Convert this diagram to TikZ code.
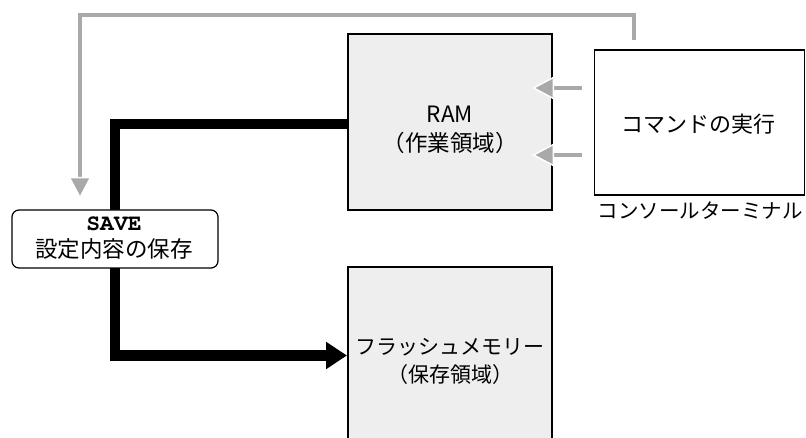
\documentclass[tikz,border=0pt]{standalone}
\usepackage{fontspec}
\setmainfont{Noto Sans CJK JP}
\newfontfamily\savefont{texgyrecursor-bold.otf}
\usetikzlibrary{arrows.meta}
\definecolor{boxfill}{HTML}{EEEEEE}
\definecolor{arrgray}{HTML}{A9A9A9}
\begin{document}
\begin{tikzpicture}[x=1pt,y=-1pt,
  membox/.style={draw=black,line width=2pt,fill=boxfill,minimum width=204pt,inner sep=0pt},
  consbox/.style={draw=black,line width=1.2pt,fill=white,minimum width=210pt,minimum height=145pt,inner sep=0pt},
  savebox/.style={draw=black,line width=1.2pt,fill=white,rounded corners=7pt,minimum width=206pt,minimum height=58pt,inner sep=0pt},
  txt/.style={align=center,inner sep=0pt,font=\fontsize{22.5}{29}\selectfont},
  grayarrow/.style={draw=arrgray,line width=4.5pt,-{Triangle[length=22pt,width=23pt,color=white,fill=arrgray,line width=1.5pt]}},
  blackarrow/.style={draw=black,line width=10pt,-{Triangle[length=21pt,width=26pt]}},
  blackline/.style={draw=black,line width=10pt}]
\useasboundingbox (0,0) rectangle (806,438);
\clip (0,0) rectangle (806,438);
\node[membox,minimum height=176pt] (ram) at (450,122) {};
\node[txt] (ramtext) at (450,130) {RAM\\（作業領域）};
\node[membox,minimum height=188pt] (flash) at (450,361) {};
\node[txt,font=\fontsize{21}{28}\selectfont] (flashtext) at (450,361) {フラッシュメモリー\\（保存領域）};
\node[consbox] (cons) at (699.5,122.5) {};
\node[txt,font=\fontsize{22}{26}\selectfont] (constext) at (698,124) {コマンドの実行};
\node[txt,font=\fontsize{20.5}{26}\selectfont] (conslabel) at (700,211) {コンソールターミナル};
\coordinate (blk1) at (115,124);
\coordinate (blk2) at (115,355.5);
\draw[blackline] ([xshift=1pt]ram.west |- blk1) -- (blk1) -- (blk2);
\draw[blackarrow] ([xshift=-5pt]blk2) -- (flash.west |- blk2);
\node[savebox] (save) at (115,239) {};
\node[txt,font=\fontsize{22.5}{27}\selectfont] (savetext) at (114,238) {{\savefont\fontsize{23}{24}\selectfont SAVE}\\設定内容の保存};
\coordinate (g1) at (634,40);
\coordinate (g2) at (634,15);
\coordinate (g3) at (80,15);
\coordinate (g4) at (80,199);
\draw[grayarrow] (g1) -- (g2) -- (g3) -- (g4);
\coordinate (a1) at (582,88);
\coordinate (a2) at (582,155);
\coordinate (t1) at (532,88);
\coordinate (t2) at (532,155);
\draw[grayarrow] (a1) -- (t1);
\draw[grayarrow] (a2) -- (t2);
\end{tikzpicture}
\end{document}
